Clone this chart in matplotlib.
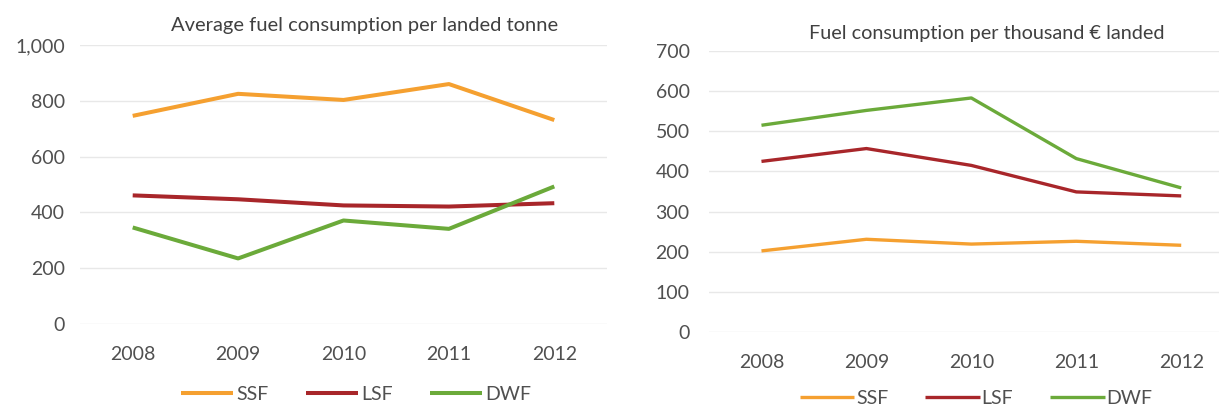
import matplotlib
matplotlib.use("Agg")
import matplotlib.pyplot as plt

years = ["2008", "2009", "2010", "2011", "2012"]

# litres per landed tonne
ssf_tonne = [746, 825, 803, 860, 731]
lsf_tonne = [461, 447, 425, 421, 433]
dwf_tonne = [346, 235, 371, 341, 493]

# litres per thousand euro landed
ssf_value = [202, 231, 219, 226, 216]
lsf_value = [425, 457, 415, 349, 339]
dwf_value = [515, 552, 583, 432, 359]

fleets = ["SSF", "LSF", "DWF"]
colors = ["#F5A030", "#A8262A", "#6BAA3A"]

plt.rcParams["font.family"] = ["Lato", "DejaVu Sans"]
text_grey = "#505050"

W, H = 1219, 409
fig = plt.figure(figsize=(W / 100, H / 100), dpi=100)


def px_axes(left, top, right, bottom):
    return fig.add_axes([left / W, 1 - bottom / H, (right - left) / W, (bottom - top) / H])


def style(ax, ymax, step, fmt):
    for s in ax.spines.values():
        s.set_visible(False)
    ax.set_ylim(0, ymax)
    ax.set_yticks(range(0, ymax + 1, step))
    ax.set_yticklabels([fmt.format(v) for v in range(0, ymax + 1, step)])
    ax.set_xticks(range(len(years)))
    ax.set_xticklabels(years)
    ax.grid(axis="y", color="#E8E8E8", linewidth=1)
    ax.set_axisbelow(True)
    ax.tick_params(length=0, labelsize=14, labelcolor=text_grey)
    ax.tick_params(axis="x", pad=16)
    ax.tick_params(axis="y", pad=11)


# left: per landed tonne
ax1 = px_axes(80, 45, 607, 324)
for vals, name, c in zip([ssf_tonne, lsf_tonne, dwf_tonne], fleets, colors):
    ax1.plot(range(len(years)), vals, color=c, linewidth=2.9, label=name,
             solid_capstyle="butt")
ax1.set_xlim(-0.5, 4.5)
style(ax1, 1000, 200, "{:,}")
fig.text(365 / W, 1 - 26 / H, "Average fuel consumption per landed tonne",
         ha="center", va="center", fontsize=14.5, color="#404040")
h, l = ax1.get_legend_handles_labels()
fig.legend(h, l, loc="center", bbox_to_anchor=(356 / W, 1 - 394 / H), ncol=3,
           frameon=False, fontsize=14, handlelength=2.7, handletextpad=0.15,
           columnspacing=1.9, labelcolor=text_grey)

# right: per thousand euro landed
ax2 = px_axes(709, 51, 1219, 332)
for vals, name, c in zip([ssf_value, lsf_value, dwf_value], fleets, colors):
    ax2.plot(range(len(years)), vals, color=c, linewidth=2.4, label=name,
             solid_capstyle="butt")
ax2.set_xlim(-0.5, 4.36)
style(ax2, 700, 100, "{}")
ax2.tick_params(axis="y", pad=14)
fig.text(987 / W, 1 - 33 / H, "Fuel consumption per thousand \u20ac landed",
         ha="center", va="center", fontsize=14.3, color="#404040")
h, l = ax2.get_legend_handles_labels()
fig.legend(h, l, loc="center", bbox_to_anchor=(976 / W, 1 - 398 / H), ncol=3,
           frameon=False, fontsize=14, handlelength=2.8, handletextpad=0.1,
           columnspacing=1.9, labelcolor=text_grey, borderpad=0.1)

fig.savefig("out.png", dpi=100)
